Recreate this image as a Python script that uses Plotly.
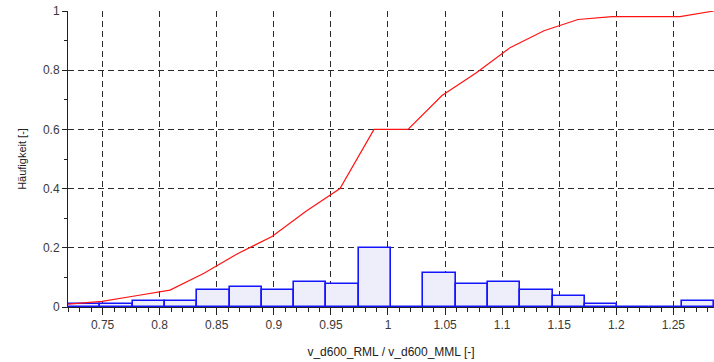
import numpy as np
import plotly.graph_objects as go

# Range of the ratio v_d600_RML / v_d600_MML (smallest and largest sample)
ratio_min = 0.7197
ratio_max = 1.2856
n_bins = 20

# Relative frequency per class (20 equal classes between min and max)
freq = [0.0095, 0.0095, 0.0190, 0.0190, 0.0571, 0.0667, 0.0571, 0.0857,
        0.0762, 0.2000, 0.0000, 0.1143, 0.0762, 0.0857, 0.0571, 0.0381,
        0.0095, 0.0000, 0.0000, 0.0190]

# Cumulative frequency, plotted at 20 evenly spaced points from min to max
cum_freq = [0.0095, 0.0190, 0.0381, 0.0571, 0.1143, 0.1810, 0.2381, 0.3238,
            0.4000, 0.6000, 0.6000, 0.7143, 0.7905, 0.8762, 0.9333, 0.9714,
            0.9810, 0.9810, 0.9810, 1.0000]

x_ticks = [0.75, 0.8, 0.85, 0.9, 0.95, 1.0, 1.05, 1.1, 1.15, 1.2, 1.25]
y_ticks = [0, 0.2, 0.4, 0.6, 0.8, 1.0]

edges = np.linspace(ratio_min, ratio_max, n_bins + 1)
centers = (edges[:-1] + edges[1:]) / 2
bin_w = edges[1] - edges[0]
cum_x = np.linspace(ratio_min, ratio_max, len(cum_freq))

fig = go.Figure()
fig.add_trace(go.Bar(
    x=centers, y=freq, width=bin_w,
    marker=dict(color="rgb(238,238,251)",
                line=dict(color="rgb(20,20,255)", width=1.6)),
    showlegend=False,
))
fig.add_trace(go.Scatter(
    x=cum_x, y=cum_freq, mode="lines",
    line=dict(color="rgb(255,20,20)", width=1.2),
    showlegend=False, cliponaxis=False,
))

grid = dict(showgrid=True, gridcolor="#2a2a2a", gridwidth=1, griddash="6px,4px")
axis_common = dict(
    showline=True, linecolor="#222", linewidth=1,
    ticks="outside", tickcolor="#222", tickwidth=1,
    zeroline=False, mirror=False,
    tickfont=dict(family="Liberation Sans, Arial, sans-serif", size=12, color="#3a3a3a"),
)

fig.update_layout(
    width=714, height=362,
    margin=dict(l=68, r=0, t=11, b=55),
    paper_bgcolor="white", plot_bgcolor="white",
    bargap=0,
    xaxis=dict(
        range=[ratio_min, ratio_max],
        tickvals=x_ticks, ticklen=7,
        minor=dict(dtick=0.01, tick0=0.7, ticks="outside", ticklen=4,
                   tickcolor="#222", showgrid=False),
        title=dict(text="v_d600_RML / v_d600_MML [-]", standoff=16,
                   font=dict(family="Liberation Sans, Arial, sans-serif", size=12, color="#222")),
        **grid, **axis_common,
    ),
    yaxis=dict(
        range=[0, 1],
        tickvals=y_ticks, ticklen=5,
        minor=dict(dtick=0.1, ticks="outside", ticklen=3,
                   tickcolor="#222", showgrid=False),
        title=dict(text="Häufigkeit [-]", standoff=14,
                   font=dict(family="Liberation Sans, Arial, sans-serif", size=11, color="#222")),
        **grid, **axis_common,
    ),
)

fig.write_html("out.html")
